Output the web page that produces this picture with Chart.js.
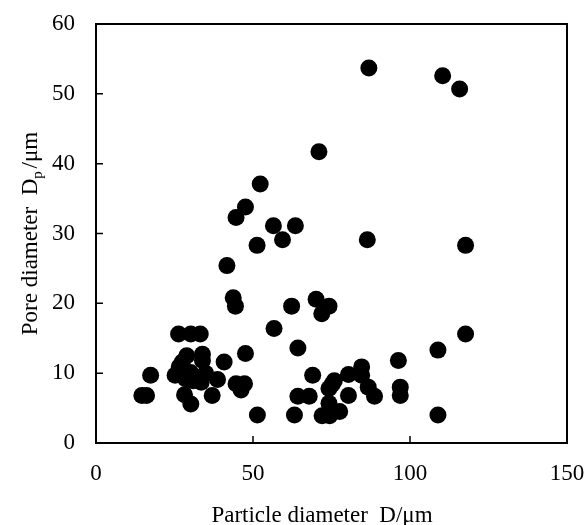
<!DOCTYPE html>
<html>
<head>
<meta charset="utf-8">
<script src="https://cdn.jsdelivr.net/npm/chart.js@4.4.1/dist/chart.umd.min.js"></script>
<style>
  html, body { margin: 0; padding: 0; background: #fff; }
  #wrap { width: 587px; height: 525px; }
</style>
</head>
<body>
<div id="wrap"><canvas id="myChart" width="587" height="525"></canvas></div>
<script>
const xTicks = [0, 50, 100, 150];
const yTicks = [0, 10, 20, 30, 40, 50, 60];

// particle diameter D (um)
const particleD = [
  86.9, 110.4, 115.8, 71.0, 52.3, 47.6, 44.6, 56.5, 63.5, 59.4,
  51.3, 86.4, 117.7, 41.7, 43.7, 44.4, 62.3, 70.1, 74.2, 71.9,
  56.7, 26.3, 30.2, 33.2, 117.7, 64.3, 108.9, 47.6, 28.9, 33.9,
  33.9, 27.5, 40.8, 96.3, 26.5, 84.6, 25.2, 17.4, 30.1, 34.9,
  69.0, 80.4, 84.6, 28.5, 38.7, 30.9, 33.5, 75.9, 44.6, 47.3,
  46.2, 74.2, 86.7, 96.9, 14.6, 16.1, 28.2, 37.0, 64.3, 67.9,
  80.4, 88.7, 96.9, 30.2, 74.2, 51.4, 63.2, 72.0, 74.4, 77.6,
  108.9, 75.2
];
// pore diameter Dp (um)
const poreDp = [
  53.7, 52.6, 50.7, 41.7, 37.1, 33.8, 32.3, 31.1, 31.1, 29.1,
  28.3, 29.1, 28.3, 25.4, 20.8, 19.6, 19.6, 20.6, 19.6, 18.5,
  16.4, 15.6, 15.6, 15.6, 15.6, 13.6, 13.3, 12.8, 12.5, 12.7,
  11.8, 11.6, 11.6, 11.8, 10.9, 10.9, 9.7, 9.7, 10.1, 10.0,
  9.7, 9.8, 9.7, 9.2, 9.1, 8.9, 8.7, 8.9, 8.5, 8.5,
  7.6, 7.8, 8.0, 8.0, 6.8, 6.8, 6.9, 6.8, 6.7, 6.7,
  6.8, 6.7, 6.8, 5.6, 5.7, 4.0, 4.0, 3.9, 3.9, 4.5,
  4.0, 8.4
];

const points = particleD.map((x, i) => ({ x: x, y: poreDp[i] }));
const serif = "'Liberation Serif', 'Times New Roman', serif";

const frame = {
  id: 'frame',
  afterDraw(chart) {
    const c = chart.ctx;
    const a = chart.chartArea;
    const sx = chart.scales.x;
    const sy = chart.scales.y;
    c.save();
    c.strokeStyle = '#000';
    c.lineWidth = 2;
    c.strokeRect(a.left, a.top, a.right - a.left, a.bottom - a.top);
    c.lineWidth = 1.5;
    c.beginPath();
    xTicks.forEach(v => {
      const px = sx.getPixelForValue(v);
      c.moveTo(px, a.bottom);
      c.lineTo(px, a.bottom - 7);
    });
    yTicks.forEach(v => {
      const py = sy.getPixelForValue(v);
      c.moveTo(a.left, py);
      c.lineTo(a.left + 7, py);
    });
    c.stroke();

    // axis titles
    c.fillStyle = '#000';
    c.textBaseline = 'alphabetic';
    c.font = '23px ' + serif;
    c.textAlign = 'center';
    c.fillText('Particle diameter  D/\u03bcm', 322, 522);

    c.translate(37, 232);
    c.rotate(-Math.PI / 2);
    const p1 = 'Pore diameter  D';
    const p3 = ' /\u03bcm';
    c.font = '23px ' + serif;
    const w1 = c.measureText(p1).width;
    const w3 = c.measureText(p3).width;
    c.font = '15px ' + serif;
    const w2 = c.measureText('p').width;
    let x0 = -(w1 + w2 + w3) / 2;
    c.textAlign = 'left';
    c.font = '23px ' + serif;
    c.fillText(p1, x0, 0);
    c.font = '15px ' + serif;
    c.fillText('p', x0 + w1, 5);
    c.font = '23px ' + serif;
    c.fillText(p3, x0 + w1 + w2 - 3, 0);
    c.restore();
  }
};

new Chart(document.getElementById('myChart'), {
  type: 'scatter',
  data: {
    datasets: [{
      data: points,
      backgroundColor: '#000',
      borderWidth: 0,
      pointRadius: 8.5,
      pointHoverRadius: 8.5
    }]
  },
  options: {
    responsive: false,
    animation: false,
    layout: { padding: { left: 0, top: 24, right: 20, bottom: 0 } },
    plugins: {
      legend: { display: false },
      tooltip: { enabled: false }
    },
    scales: {
      x: {
        type: 'linear',
        min: 0, max: 150,
        afterFit: s => { s.height = 82; s.paddingLeft = 0; s.paddingRight = 0; },
        afterBuildTicks: s => { s.ticks = xTicks.map(v => ({ value: v })); },
        grid: { display: false, drawTicks: false },
        border: { display: false },
        ticks: { color: '#000', padding: 17, font: { family: serif, size: 23 } }
      },
      y: {
        type: 'linear',
        min: 0, max: 60,
        afterFit: s => { s.width = 96; s.paddingTop = 0; s.paddingBottom = 0; },
        afterBuildTicks: s => { s.ticks = yTicks.map(v => ({ value: v })); },
        grid: { display: false, drawTicks: false },
        border: { display: false },
        ticks: { color: '#000', padding: 21, font: { family: serif, size: 23 } }
      }
    }
  },
  plugins: [frame]
});
</script>
</body>
</html>
